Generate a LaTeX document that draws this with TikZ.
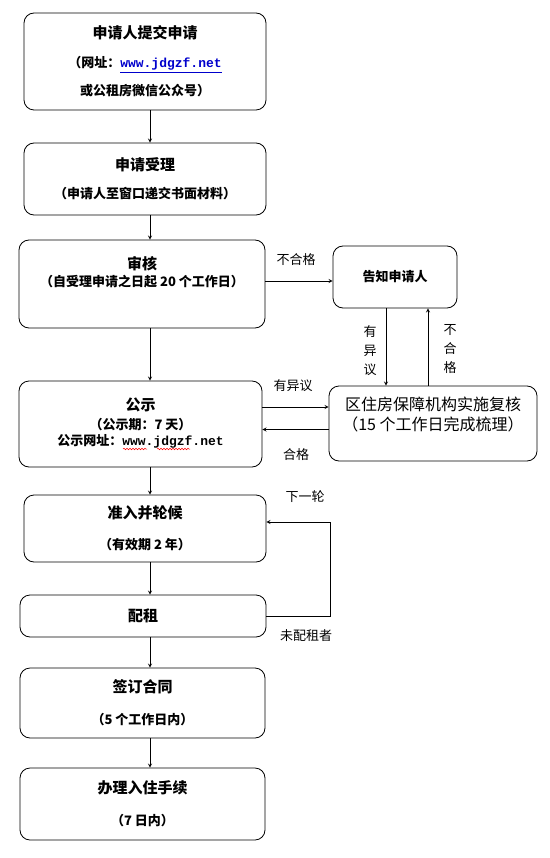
\documentclass[tikz,border=0pt]{standalone}
\usepackage{fontspec}
\setmainfont{Noto Sans CJK SC}
\newfontfamily\webfont{Liberation Mono}
\usepackage{tikz}
\usetikzlibrary{arrows,shapes,calc,positioning,decorations.pathmorphing}
\tikzstyle{box}  =[draw, rounded corners=10pt, line width=0.8pt,
                   align=center, inner sep=0pt]
\tikzstyle{edge} =[->, >=stealth, line width=0.8pt]
\tikzstyle{tag}  =[inner sep=1pt, fill=none, draw=none,
                   font=\fontsize{13}{15}\selectfont]
\tikzstyle{wavy} =[red, line width=0.5pt, decorate,
                   decoration={snake, amplitude=0.8pt, segment length=3pt}]
\newcommand{\hd}[1]{{\fontsize{15}{18}\selectfont\bfseries #1}}
\newcommand{\sub}[1]{{\fontsize{13}{16}\selectfont\bfseries #1}}
\newcommand{\web}{{\webfont\bfseries www.jdgzf.net}}

\begin{document}
\begin{tikzpicture}[x=1pt, y=-1pt]
    \useasboundingbox (0,0) rectangle (549,858);
    \coordinate (m) at (150,0);
    \node (a) [box, minimum width=242pt, minimum height=97pt] at (145,61.5)
        {\hd{申请人提交申请}\\[15pt]
         \sub{（网址：\textcolor{blue!80!black}{\underline{\web}}}\\[11pt]
         \sub{或公租房微信公众号）}};
    \node (b) [box, minimum width=242pt, minimum height=72pt] at (145,179)
        {\hd{申请受理}\\[14pt] \sub{（申请人至窗口递交书面材料）}};
    \node (c) [box, minimum width=246pt, minimum height=88pt] at (142,284)
        {\hd{审核}\\[3pt] \sub{（自受理申请之日起 20 个工作日）}\\[13pt]\mbox{}};
    \node (d) [box, minimum width=124pt, minimum height=62pt] at (395,277)
        {\sub{告知申请人}};
    \node (e) [box, minimum width=208pt, minimum height=75pt] at (433,423.5)
        {\fontsize{16}{20}\selectfont 区住房保障机构实施复核\\[4pt]
         \fontsize{16}{20}\selectfont （15 个工作日完成梳理）\\[8pt]\mbox{}};
    \node (f) [box, minimum width=243pt, minimum height=86pt] at (140.5,424)
        {\hd{公示}\\[5pt] \sub{（公示期：7 天）}\\[3pt] \sub{公示网址：\web}\\[-8pt]\mbox{}};
    \node (g) [box, minimum width=242pt, minimum height=67pt] at (145,528.5)
        {\hd{准入并轮候}\\[17pt] \sub{（有效期 2 年）}};
    \node (h) [box, minimum width=246pt, minimum height=42pt] at (143,616)
        {\hd{配租}};
    \node (i) [box, minimum width=245pt, minimum height=70pt] at (142.5,703)
        {\hd{签订合同}\\[18pt] \sub{（5 个工作日内）}};
    \node (j) [box, minimum width=245pt, minimum height=72pt] at (142.5,804)
        {\hd{办理入住手续}\\[18pt] \sub{（7 日内）}};
    \coordinate (r) at (330,522);
    \draw[edge] (a.south -| m) -- (b.north -| m);
    \draw[edge] (b.south -| m) -- (c.north -| m);
    \draw[edge] (c.south -| m) -- (f.north -| m);
    \draw[edge] (f.south -| m) -- (g.north -| m);
    \draw[edge] (g.south -| m) -- (h.north -| m);
    \draw[edge] (h.south -| m) -- (i.north -| m);
    \draw[edge] (i.south -| m) -- (j.north -| m);
    \draw[edge] ([yshift=-4pt]c.east |- d.west) -- ([yshift=-4pt]d.west);
    \draw[edge] ([xshift=-9pt]d.south) -- ([xshift=-9pt]d.south |- e.north);
    \draw[edge] ([xshift=33pt]d.south |- e.north) -- ([xshift=33pt]d.south);
    \draw[edge] ([yshift=17pt]f.east) -- ([yshift=17pt]f.east -| e.west);
    \draw[edge] ([yshift=-6pt]e.west) -- ([yshift=-6pt]e.west -| f.east);
    \draw[edge] (h.east) -| (r) -- (g.east |- r);
    \draw[wavy] (123,449) -- (147,449);
    \draw[wavy] (157,449) -- (190,449);
    \node (k) [tag] at (296,260) {不合格};
    \node (l) [tag, align=center] at (370,351) {有\\[4pt]异\\[4pt]议};
    \node (n) [tag, align=center] at (450,349) {不\\[4pt]合\\[4pt]格};
    \node (o) [tag] at (293,386) {有异议};
    \node (p) [tag] at (296,455) {合格};
    \node (q) [tag] at (305,497) {下一轮};
    \node (s) [tag] at (306,636) {未配租者};
\end{tikzpicture}
\end{document}
